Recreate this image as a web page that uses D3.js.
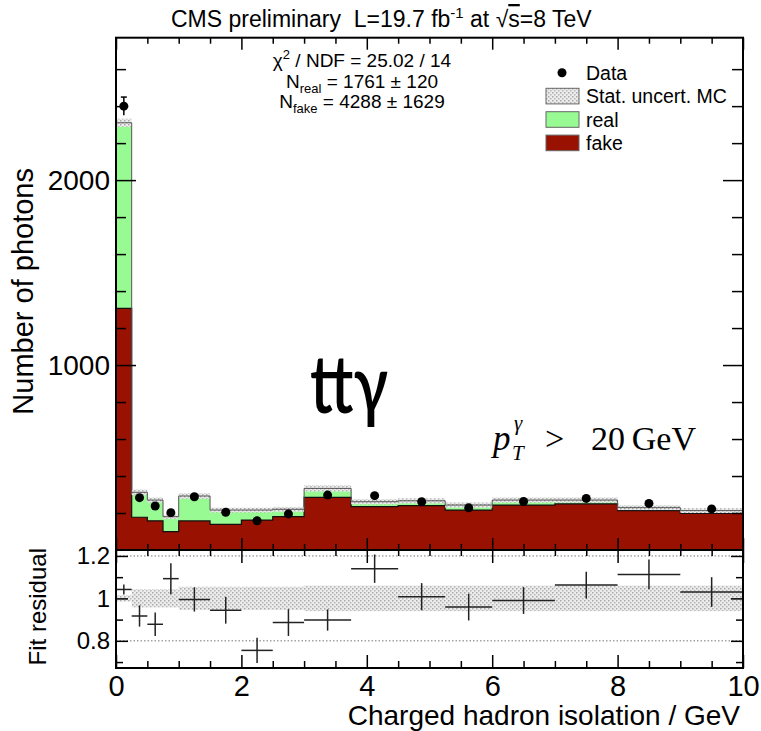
<!DOCTYPE html>
<html>
<head>
<meta charset="utf-8">
<script src="https://cdn.jsdelivr.net/npm/d3@7"></script>
<style>
body { margin: 0; background: #fff; }
text { font-family: "Liberation Sans", Arial, sans-serif; }
</style>
</head>
<body>
<svg id="chart" width="761" height="731"></svg>
<script>
'use strict';

// histogram binning (charged hadron isolation, GeV)
var bin_edges = [0, 0.25, 0.5, 0.75, 1, 1.5, 2, 2.5, 3, 3.75, 4.5, 5.25, 6, 7, 8, 9, 10];

// stacked templates
var fake_counts = [1306, 177, 158, 99, 157, 139, 162, 180, 285, 234, 240, 216, 243, 249, 213, 198];
var real_counts = [1004, 135, 112, 81, 135, 77, 54, 40, 48, 27, 26, 27, 27, 21, 16, 15];
var mc_stat_err = [22, 15, 14, 12, 15, 13, 13, 13, 17, 14, 14, 14, 14, 14, 13, 13];

// data points
var data_counts = [2400, 283, 238, 202, 288, 204, 158, 195, 297, 294, 261, 228, 262, 279, 252, 222];
var data_err = [49, 17, 15, 14, 17, 14, 13, 14, 17, 17, 16, 15, 16, 17, 16, 15];

// lower panel
var residual = [1.042, 0.917, 0.878, 1.093, 0.995, 0.944, 0.755, 0.886, 0.898, 1.14, 1.008, 0.959, 0.99, 1.063, 1.113, 1.03];
var residual_err = [0.024, 0.05, 0.055, 0.073, 0.057, 0.063, 0.06, 0.063, 0.05, 0.067, 0.064, 0.063, 0.063, 0.063, 0.07, 0.07];
var residual_band = [0.015, 0.043, 0.043, 0.043, 0.055, 0.055, 0.055, 0.055, 0.06, 0.06, 0.06, 0.06, 0.06, 0.06, 0.06, 0.06];

// axis ticks
var x_major = [0, 2, 4, 6, 8, 10];
var x_minor = [0.5, 1, 1.5, 2.5, 3, 3.5, 4.5, 5, 5.5, 6.5, 7, 7.5, 8.5, 9, 9.5];
var y_major = [1000, 2000];
var y_minor = [200, 400, 600, 800, 1200, 1400, 1600, 1800, 2200, 2400, 2600];
var res_major = [0.8, 1, 1.2];
var res_minor = [0.7, 0.9, 1.1];

var legend_items = ['Data', 'Stat. uncert. MC', 'real', 'fake'];

var col_fake = '#991100',
    col_real = '#98fa92',
    font_main = '"Liberation Sans", Arial, sans-serif';

var svg = d3.select('#chart');

var x = d3.scaleLinear().domain([0, 10]).range([116, 743]),
    y_main = d3.scaleLinear().domain([0, 2770]).range([550, 37.7]),
    y_res = d3.scaleLinear().domain([0.672, 1.228]).range([668, 550]);

var bins = fake_counts.map(function(f, i) {
    return {
        x0: bin_edges[i],
        x1: bin_edges[i + 1],
        fake: f,
        total: f + real_counts[i],
        mc_err: mc_stat_err[i],
        data: data_counts[i],
        data_err: data_err[i],
        res: residual[i],
        res_err: residual_err[i],
        band: residual_band[i]
    };
});

// dotted grey fill for MC stat uncertainty
var defs = svg.append('defs');
var pat = defs.append('pattern')
    .attr('id', 'mc_hatch')
    .attr('patternUnits', 'userSpaceOnUse')
    .attr('width', 4).attr('height', 4);
pat.append('rect').attr('width', 4).attr('height', 4).attr('fill', '#ececec');
pat.append('rect').attr('x', 0).attr('y', 0).attr('width', 1.5).attr('height', 1.5).attr('fill', '#a8a8a8');
pat.append('rect').attr('x', 2).attr('y', 2).attr('width', 1.5).attr('height', 1.5).attr('fill', '#b4b4b4');

// step points for a histogram
function stepPoints(key) {
    var pts = bins.map(function(b) { return [b.x0, b[key]]; });
    pts.push([bin_edges[bin_edges.length - 1], bins[bins.length - 1][key]]);
    return pts;
}

var area_main = function(key) {
    return d3.area()
        .curve(d3.curveStepAfter)
        .x(function(d) { return x(d[0]); })
        .y0(y_main(0))
        .y1(function(d) { return y_main(d[1]); })(stepPoints(key));
};
var line_main = function(key) {
    return d3.line()
        .curve(d3.curveStepAfter)
        .x(function(d) { return x(d[0]); })
        .y(function(d) { return y_main(d[1]); })(stepPoints(key));
};

// ---------- upper panel ----------
var upper = svg.append('g');

upper.append('path').attr('d', area_main('total')).attr('fill', col_real);
upper.append('path').attr('d', area_main('fake')).attr('fill', col_fake);
upper.append('path').attr('d', line_main('fake'))
    .attr('fill', 'none').attr('stroke', '#111').attr('stroke-width', 1.2);

upper.selectAll('rect.mcerr')
    .data(bins)
    .enter().append('rect')
    .attr('class', 'mcerr')
    .attr('x', function(d) { return x(d.x0); })
    .attr('width', function(d) { return x(d.x1) - x(d.x0); })
    .attr('y', function(d) { return y_main(d.total + d.mc_err); })
    .attr('height', function(d) { return y_main(d.total - d.mc_err) - y_main(d.total + d.mc_err); })
    .attr('fill', 'url(#mc_hatch)');

upper.append('path').attr('d', line_main('total'))
    .attr('fill', 'none').attr('stroke', '#555').attr('stroke-width', 1);

// ---------- lower panel ----------
var lower = svg.append('g');

lower.selectAll('rect.band')
    .data(bins)
    .enter().append('rect')
    .attr('class', 'band')
    .attr('x', function(d) { return x(d.x0); })
    .attr('width', function(d) { return x(d.x1) - x(d.x0); })
    .attr('y', function(d) { return y_res(1 + d.band); })
    .attr('height', function(d) { return y_res(1 - d.band) - y_res(1 + d.band); })
    .attr('fill', 'url(#mc_hatch)');

[0.8, 1.2].forEach(function(v) {
    lower.append('line')
        .attr('x1', x(0)).attr('x2', x(10))
        .attr('y1', y_res(v)).attr('y2', y_res(v))
        .attr('stroke', '#777').attr('stroke-width', 1)
        .attr('stroke-dasharray', '1.5,2');
});

var crosses = lower.selectAll('g.cross').data(bins).enter().append('g').attr('class', 'cross');
crosses.append('line')
    .attr('x1', function(d) { return x(d.x0); })
    .attr('x2', function(d) { return x(d.x1); })
    .attr('y1', function(d) { return y_res(d.res); })
    .attr('y2', function(d) { return y_res(d.res); });
crosses.append('line')
    .attr('x1', function(d) { return x((d.x0 + d.x1) / 2); })
    .attr('x2', function(d) { return x((d.x0 + d.x1) / 2); })
    .attr('y1', function(d) { return y_res(Math.min(d.res + d.res_err, 1.228)); })
    .attr('y2', function(d) { return y_res(d.res - d.res_err); });
crosses.selectAll('line').attr('stroke', '#222').attr('stroke-width', 1.5);

// ---------- frames ----------
svg.append('rect')
    .attr('x', x(0)).attr('y', y_main(2770))
    .attr('width', x(10) - x(0)).attr('height', y_main(0) - y_main(2770))
    .attr('fill', 'none').attr('stroke', '#000').attr('stroke-width', 2);
svg.append('rect')
    .attr('x', x(0)).attr('y', y_res(1.228))
    .attr('width', x(10) - x(0)).attr('height', y_res(0.672) - y_res(1.228))
    .attr('fill', 'none').attr('stroke', '#000').attr('stroke-width', 2);

// ---------- axes ----------
function drawAxis(axis, tx, ty) {
    var g = svg.append('g')
        .attr('transform', 'translate(' + tx + ',' + ty + ')')
        .call(axis);
    g.select('.domain').remove();
    g.selectAll('line').attr('stroke', '#000').attr('stroke-width', 1.5);
    g.selectAll('text').attr('fill', '#000').style('font-family', font_main);
    return g;
}

var noLabel = function() { return ''; };

// upper panel, left/right
drawAxis(d3.axisLeft(y_main).tickValues(y_major).tickSize(-20).tickPadding(6).tickFormat(d3.format('d')), x(0), 0)
    .selectAll('text').style('font-size', '28px');
drawAxis(d3.axisLeft(y_main).tickValues(y_minor).tickSize(-10).tickFormat(noLabel), x(0), 0);
drawAxis(d3.axisRight(y_main).tickValues(y_major).tickSize(-20).tickFormat(noLabel), x(10), 0);
drawAxis(d3.axisRight(y_main).tickValues(y_minor).tickSize(-11).tickFormat(noLabel), x(10), 0);

// upper panel, top/bottom
drawAxis(d3.axisTop(x).tickValues(x_major).tickSize(-12).tickFormat(noLabel), 0, y_main(2770));
drawAxis(d3.axisTop(x).tickValues(x_minor).tickSize(-6).tickFormat(noLabel), 0, y_main(2770));
drawAxis(d3.axisBottom(x).tickValues(x_major).tickSize(-12).tickFormat(noLabel), 0, y_main(0));
drawAxis(d3.axisBottom(x).tickValues(x_minor).tickSize(-6).tickFormat(noLabel), 0, y_main(0));

// lower panel, top/bottom
drawAxis(d3.axisTop(x).tickValues(x_major).tickSize(-13).tickFormat(noLabel), 0, y_res(1.228));
drawAxis(d3.axisTop(x).tickValues(x_minor).tickSize(-6).tickFormat(noLabel), 0, y_res(1.228));
drawAxis(d3.axisBottom(x).tickValues(x_major).tickSize(-13).tickPadding(7).tickFormat(d3.format('d')), 0, y_res(0.672))
    .selectAll('text').style('font-size', '29px');
drawAxis(d3.axisBottom(x).tickValues(x_minor).tickSize(-7).tickFormat(noLabel), 0, y_res(0.672));

// lower panel, left/right
drawAxis(d3.axisLeft(y_res).tickValues(res_major).tickSize(-12).tickPadding(6)
    .tickFormat(function(d) { return d === 1 ? '1' : d3.format('.1f')(d); }), x(0), 0)
    .selectAll('text').style('font-size', '24px');
drawAxis(d3.axisLeft(y_res).tickValues(res_minor).tickSize(-7).tickFormat(noLabel), x(0), 0);
drawAxis(d3.axisRight(y_res).tickValues(res_major).tickSize(-12).tickFormat(noLabel), x(10), 0);
drawAxis(d3.axisRight(y_res).tickValues(res_minor).tickSize(-7).tickFormat(noLabel), x(10), 0);

// ---------- data points ----------
var points = svg.append('g').selectAll('g.pt').data(bins).enter().append('g').attr('class', 'pt');
points.append('line')
    .attr('x1', function(d) { return x((d.x0 + d.x1) / 2); })
    .attr('x2', function(d) { return x((d.x0 + d.x1) / 2); })
    .attr('y1', function(d) { return y_main(d.data + d.data_err); })
    .attr('y2', function(d) { return y_main(d.data - d.data_err); })
    .attr('stroke', '#000').attr('stroke-width', 1.5);
points.filter(function(d, i) { return i === 0; }).append('line')
    .attr('x1', function(d) { return x((d.x0 + d.x1) / 2) - 3; })
    .attr('x2', function(d) { return x((d.x0 + d.x1) / 2) + 3; })
    .attr('y1', function(d) { return y_main(d.data + d.data_err); })
    .attr('y2', function(d) { return y_main(d.data + d.data_err); })
    .attr('stroke', '#000').attr('stroke-width', 1.5);
points.append('circle')
    .attr('cx', function(d) { return x((d.x0 + d.x1) / 2); })
    .attr('cy', function(d) { return y_main(d.data); })
    .attr('r', 4.5)
    .attr('fill', '#000');

// ---------- legend ----------
var legend = svg.append('g');
legend_items.forEach(function(name, i) {
    var cy = 72.7 + i * 23.4;
    if (i === 0) {
        legend.append('circle').attr('cx', 562).attr('cy', cy).attr('r', 4.5).attr('fill', '#000');
    } else {
        legend.append('rect')
            .attr('x', 546).attr('y', cy - 7.8).attr('width', 33).attr('height', 15.6)
            .attr('fill', i === 1 ? 'url(#mc_hatch)' : (i === 2 ? col_real : col_fake))
            .attr('stroke', '#666').attr('stroke-width', 1);
    }
    legend.append('text')
        .attr('x', 586).attr('y', cy + 7)
        .style('font-size', '19.5px')
        .text(name);
});

// ---------- texts ----------
var header = svg.append('text').attr('x', 171).attr('y', 27).style('font-size', '23px');
header.append('tspan').text('CMS preliminary\u00A0\u00A0L=19.7 fb');
header.append('tspan').attr('dy', -9).style('font-size', '15px').text('-1');
header.append('tspan').attr('dy', 9).text(' at \u221A');
header.append('tspan').style('text-decoration', 'overline').text('s');
header.append('tspan').text('=8 TeV');

var fit = svg.append('g').style('font-size', '19px');
var l1 = fit.append('text').attr('x', 362).attr('y', 67.3).attr('text-anchor', 'middle');
l1.append('tspan').text('\u03C7');
l1.append('tspan').attr('dy', -8).style('font-size', '13px').text('2');
l1.append('tspan').attr('dy', 8).text(' / NDF = 25.02 / 14');
var l2 = fit.append('text').attr('x', 362).attr('y', 87.5).attr('text-anchor', 'middle');
l2.append('tspan').text('N');
l2.append('tspan').attr('dy', 5).style('font-size', '13px').text('real');
l2.append('tspan').attr('dy', -5).text(' = 1761 \u00B1 120');
var l3 = fit.append('text').attr('x', 362).attr('y', 107.7).attr('text-anchor', 'middle');
l3.append('tspan').text('N');
l3.append('tspan').attr('dy', 5).style('font-size', '13px').text('fake');
l3.append('tspan').attr('dy', -5).text(' = 4288 \u00B1 1629');

svg.append('text')
    .attr('transform', 'translate(33,168) rotate(-90)')
    .attr('text-anchor', 'end')
    .style('font-size', '29px')
    .text('Number of photons');
svg.append('text')
    .attr('transform', 'translate(46,548) rotate(-90)')
    .attr('text-anchor', 'end')
    .style('font-size', '24px')
    .text('Fit residual');
svg.append('text')
    .attr('x', 740).attr('y', 725)
    .attr('text-anchor', 'end')
    .style('font-size', '28px')
    .text('Charged hadron isolation / GeV');

svg.append('text')
    .attr('x', 310).attr('y', 413)
    .attr('textLength', 78).attr('lengthAdjust', 'spacingAndGlyphs')
    .style('font-family', 'Lato, "Open Sans", sans-serif')
    .style('font-weight', 600)
    .style('font-size', '80px')
    .text('tt\u03B3');

var serif = '"Liberation Serif", "DejaVu Serif", serif';
svg.append('text').attr('x', 493).attr('y', 450)
    .style('font-family', serif).style('font-size', '35px').style('font-style', 'italic').text('p');
svg.append('text').attr('x', 514).attr('y', 430)
    .style('font-family', serif).style('font-size', '21px').style('font-style', 'italic').text('\u03B3');
svg.append('text').attr('x', 512).attr('y', 460)
    .style('font-family', serif).style('font-size', '21px').style('font-style', 'italic').text('T');
svg.append('text').attr('x', 545).attr('y', 450)
    .style('font-family', serif).style('font-size', '34px').text('>');
svg.append('text').attr('x', 591).attr('y', 450)
    .style('font-family', serif).style('font-size', '34px').text('20\u2009GeV');
</script>
</body>
</html>
